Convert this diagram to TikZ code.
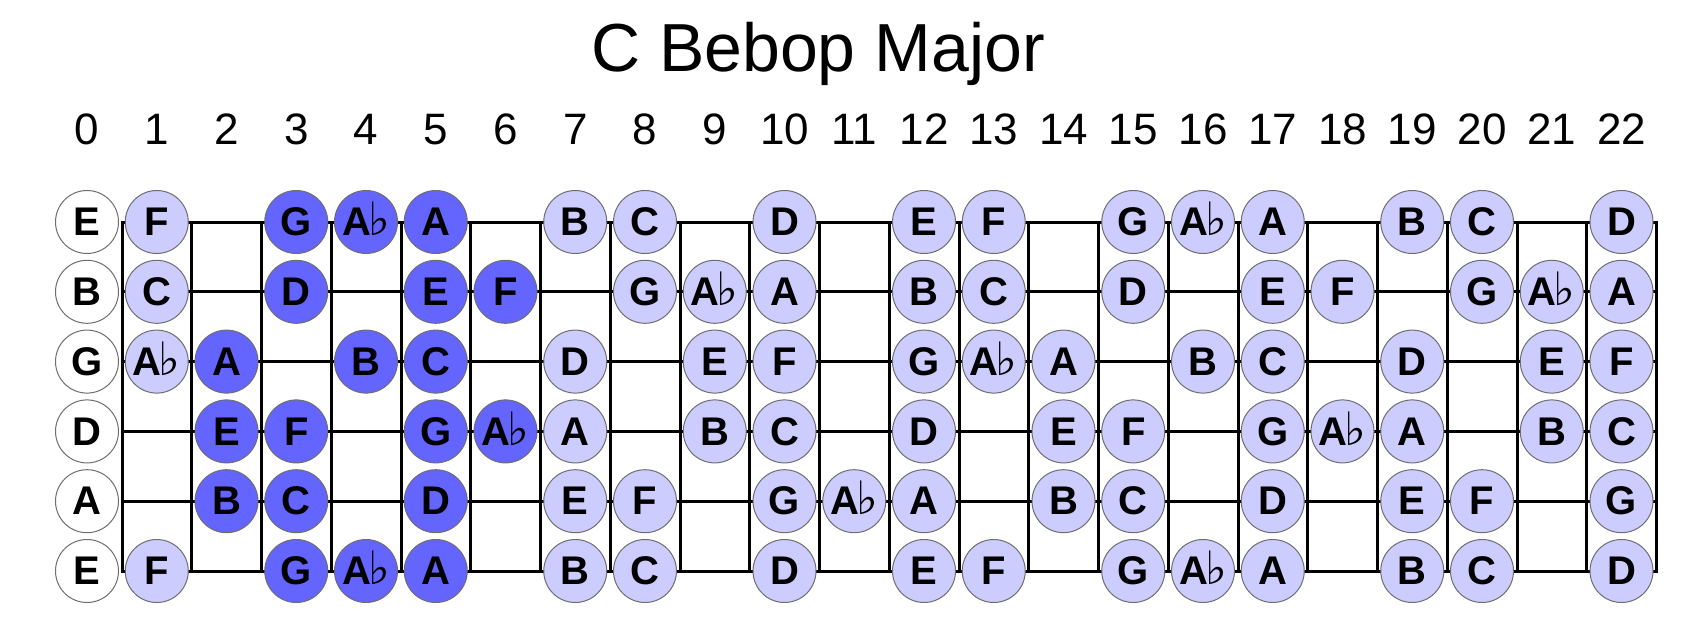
\documentclass[tikz,border=0pt]{standalone}
\usepackage{fontspec}
\setmainfont{Liberation Sans}
\newfontfamily\flatfont{DejaVu Sans}
\usepackage{xcolor}
\usepackage{tikz}
\usetikzlibrary{positioning}
\definecolor{notelight}{HTML}{CCCCFF}
\definecolor{notedark}{HTML}{6464FF}
\definecolor{noterim}{HTML}{6E6E6E}
\newcommand*\flatnote[1]{#1\kern-3pt\smash{\flatfont\mdseries\fontsize{46}{46}\selectfont ♭}}
\tikzstyle{note} = [circle, draw=noterim, line width=1pt, minimum size=63pt, inner sep=0pt, font=\fontsize{40}{40}\selectfont\bfseries]
\tikzstyle{opennote} = [note, fill=white]
\tikzstyle{scalenote} = [note, fill=notelight]
\tikzstyle{boxnote} = [note, fill=notedark]
\tikzstyle{wire} = [line width=3pt, black, line cap=rect]
\tikzstyle{fretnum} = [anchor=base, font=\fontsize{44}{44}\selectfont]
\tikzstyle{headline} = [anchor=base, font=\fontsize{68}{68}\selectfont]

\begin{document}
\begin{tikzpicture}[x=1pt, y=-1pt]
    \useasboundingbox (0,0) rectangle (1707,623);

    % === TITLE ===
    \node (title) [headline] at (818,72) {C Bebop Major};

    % === FRET NUMBERS ===
    \foreach \f in {0,...,22}
        \node (num\f) [fretnum] at ({87+69.75*\f},145) {\f};

    % === FRETBOARD GRID ===
    \foreach \k in {0,...,22} {
        \coordinate (fret\k top) at ({122+69.75*\k},222);
        \coordinate (fret\k bot) at ({122+69.75*\k},571);
        \draw [wire] (fret\k top) -- (fret\k bot);
    }
    \foreach \s in {1,...,6} {
        \coordinate (str\s a) at (122,{222+69.8*(\s-1)});
        \coordinate (str\s b) at (1656.5,{222+69.8*(\s-1)});
        \draw [wire] (str\s a) -- (str\s b);
    }

    % === OPEN STRINGS ===
    \foreach \s/\n in {1/E, 2/B, 3/G, 4/D, 5/A, 6/E}
        \node (n\s-0) [opennote] at (87,{222+69.8*(\s-1)}) {\n};

    % === SCALE NOTES ===
    % high E string
    \foreach \f/\n/\k in {1/F/scalenote, 3/G/boxnote, 4/{\flatnote{A}}/boxnote, 5/A/boxnote,
            7/B/scalenote, 8/C/scalenote, 10/D/scalenote, 12/E/scalenote, 13/F/scalenote,
            15/G/scalenote, 16/{\flatnote{A}}/scalenote, 17/A/scalenote, 19/B/scalenote,
            20/C/scalenote, 22/D/scalenote}
        \node (n1-\f) [\k] at ({87+69.75*\f},222) {\n};
    % B string
    \foreach \f/\n/\k in {1/C/scalenote, 3/D/boxnote, 5/E/boxnote, 6/F/boxnote,
            8/G/scalenote, 9/{\flatnote{A}}/scalenote, 10/A/scalenote, 12/B/scalenote,
            13/C/scalenote, 15/D/scalenote, 17/E/scalenote, 18/F/scalenote,
            20/G/scalenote, 21/{\flatnote{A}}/scalenote, 22/A/scalenote}
        \node (n2-\f) [\k] at ({87+69.75*\f},291.8) {\n};
    % G string
    \foreach \f/\n/\k in {1/{\flatnote{A}}/scalenote, 2/A/boxnote, 4/B/boxnote, 5/C/boxnote,
            7/D/scalenote, 9/E/scalenote, 10/F/scalenote, 12/G/scalenote,
            13/{\flatnote{A}}/scalenote, 14/A/scalenote, 16/B/scalenote, 17/C/scalenote,
            19/D/scalenote, 21/E/scalenote, 22/F/scalenote}
        \node (n3-\f) [\k] at ({87+69.75*\f},361.6) {\n};
    % D string
    \foreach \f/\n/\k in {2/E/boxnote, 3/F/boxnote, 5/G/boxnote, 6/{\flatnote{A}}/boxnote,
            7/A/scalenote, 9/B/scalenote, 10/C/scalenote, 12/D/scalenote, 14/E/scalenote,
            15/F/scalenote, 17/G/scalenote, 18/{\flatnote{A}}/scalenote, 19/A/scalenote,
            21/B/scalenote, 22/C/scalenote}
        \node (n4-\f) [\k] at ({87+69.75*\f},431.4) {\n};
    % A string
    \foreach \f/\n/\k in {2/B/boxnote, 3/C/boxnote, 5/D/boxnote,
            7/E/scalenote, 8/F/scalenote, 10/G/scalenote, 11/{\flatnote{A}}/scalenote,
            12/A/scalenote, 14/B/scalenote, 15/C/scalenote, 17/D/scalenote,
            19/E/scalenote, 20/F/scalenote, 22/G/scalenote}
        \node (n5-\f) [\k] at ({87+69.75*\f},501.2) {\n};
    % low E string
    \foreach \f/\n/\k in {1/F/scalenote, 3/G/boxnote, 4/{\flatnote{A}}/boxnote, 5/A/boxnote,
            7/B/scalenote, 8/C/scalenote, 10/D/scalenote, 12/E/scalenote, 13/F/scalenote,
            15/G/scalenote, 16/{\flatnote{A}}/scalenote, 17/A/scalenote, 19/B/scalenote,
            20/C/scalenote, 22/D/scalenote}
        \node (n6-\f) [\k] at ({87+69.75*\f},571) {\n};

\end{tikzpicture}
\end{document}
